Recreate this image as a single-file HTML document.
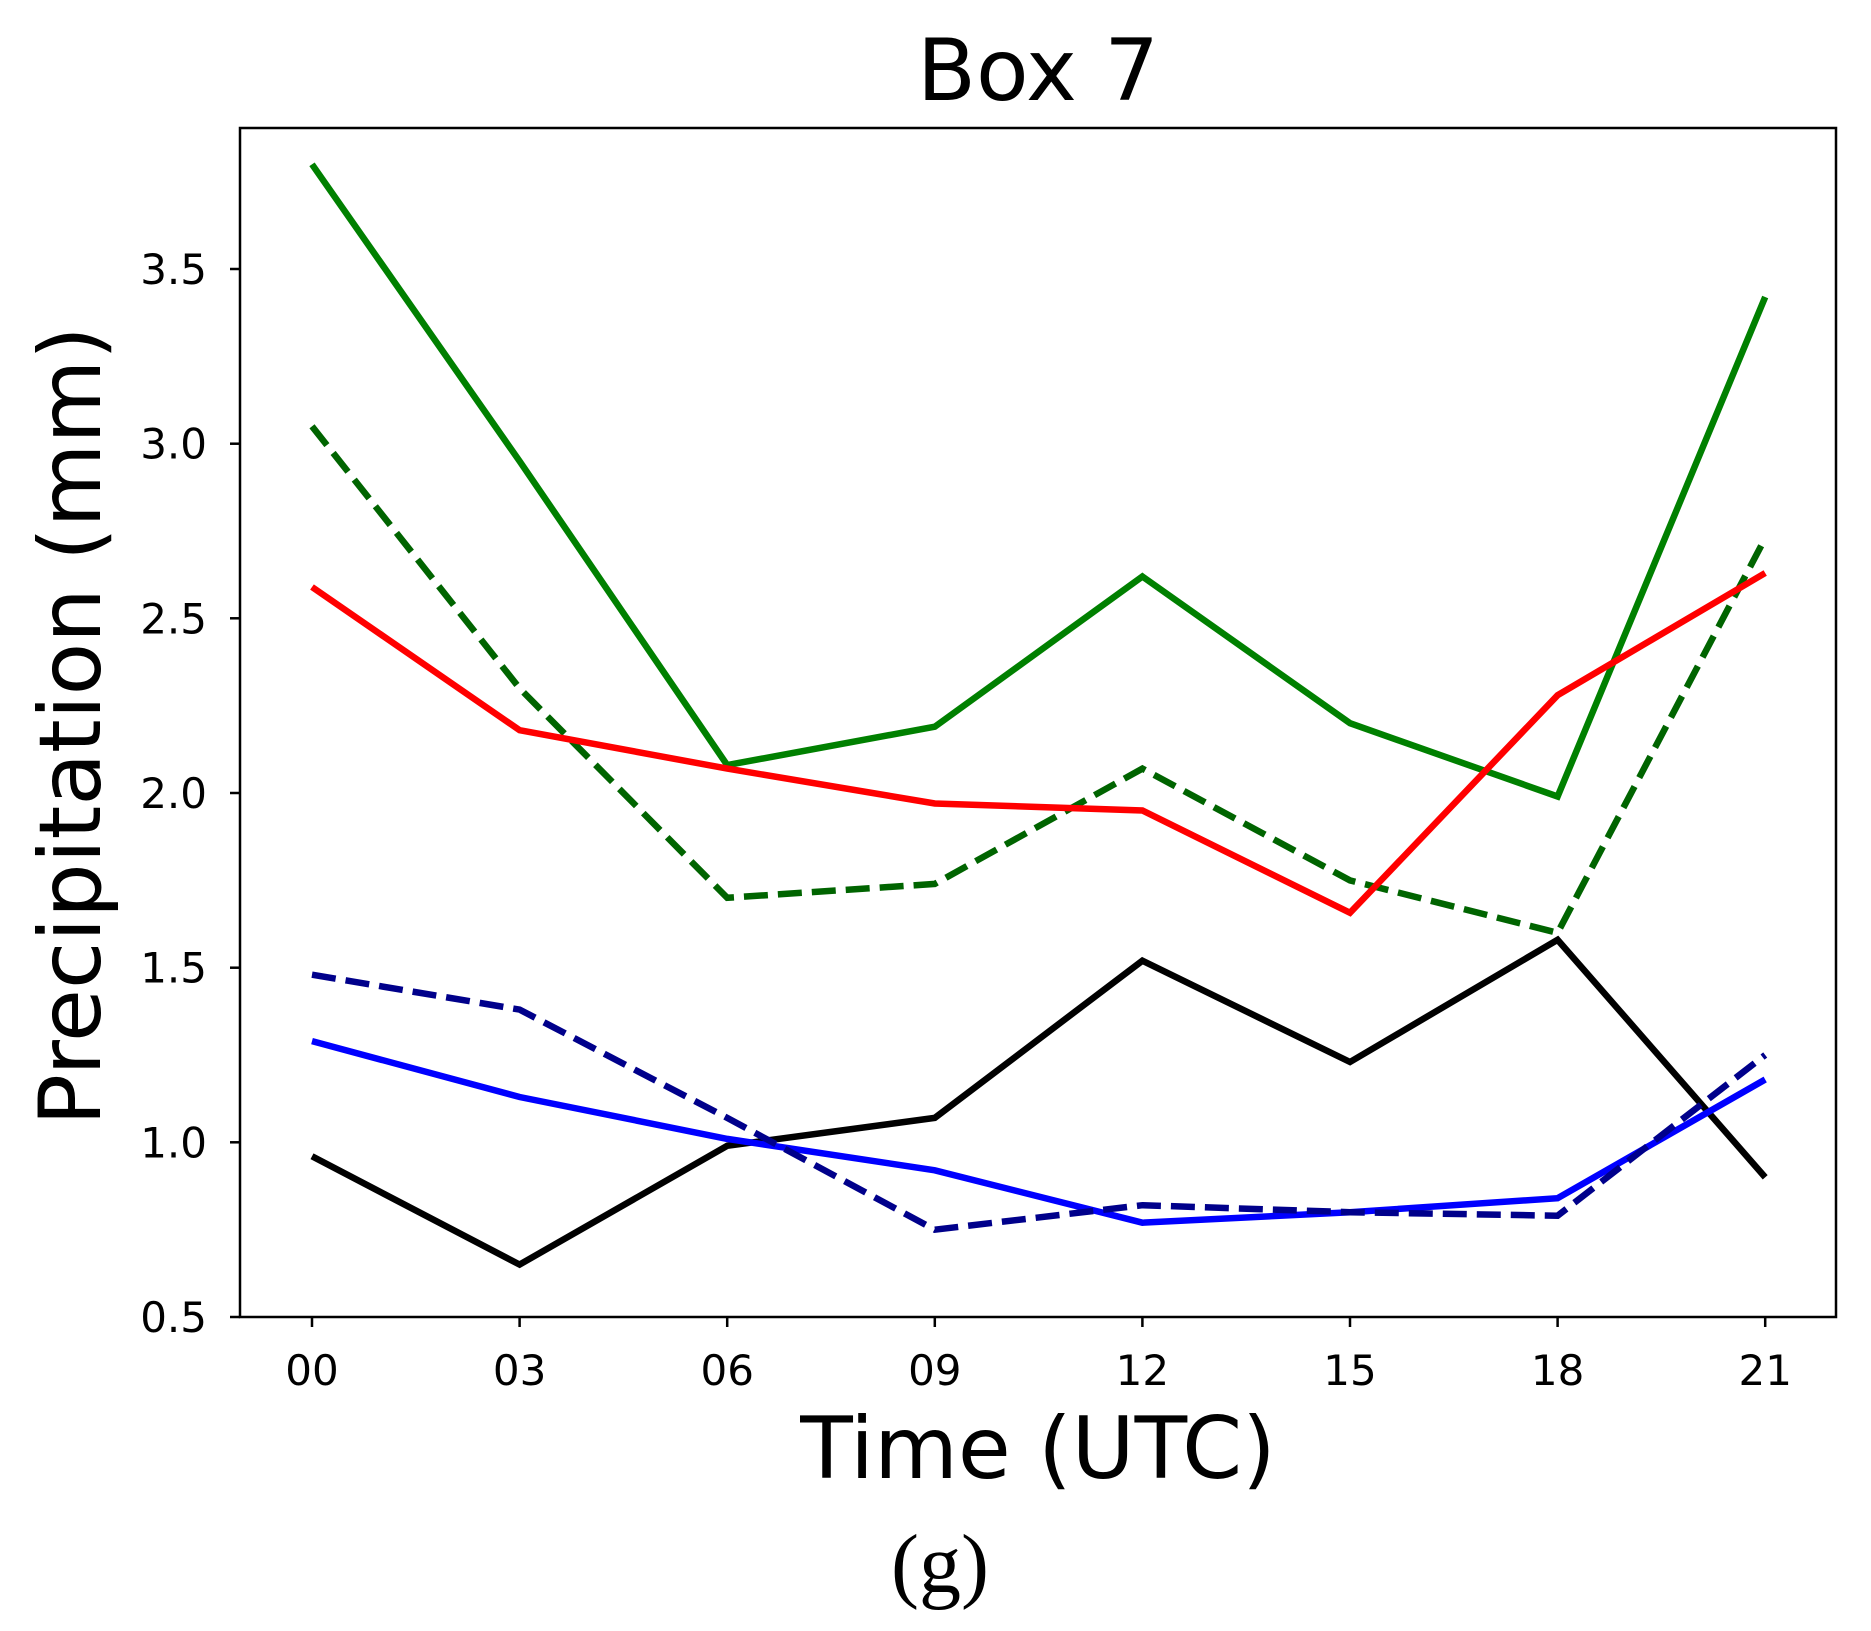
<!DOCTYPE html>
<html><head><style>html,body{margin:0;padding:0;background:#fff}</style></head>
<body>
<svg width="1871" height="1626" viewBox="0 0 1871 1626" xmlns="http://www.w3.org/2000/svg" font-family="DejaVu Sans, Liberation Sans, sans-serif">
<rect width="1871" height="1626" fill="#fff"/>
<g fill="none" stroke-width="6.5" stroke-linejoin="miter" stroke-linecap="butt">
<polyline stroke="#008000" points="312,164.3 519.6,461.2 727.2,765.1 934.8,726.7 1142.4,576.5 1350,723.2 1557.6,796.5 1765.2,297"/>
<polyline stroke="#006400" stroke-dasharray="24,10" points="312,426.3 519.6,688.3 727.2,897.8 934.8,883.9 1142.4,768.6 1350,880.4 1557.6,932.8 1765.2,538.1"/>
<polyline stroke="#ff0000" points="312,587 519.6,730.2 727.2,768.6 934.8,803.5 1142.4,810.5 1350,912.8 1557.6,695.2 1765.2,573"/>
<polyline stroke="#000000" points="312,1156.3 519.6,1264.6 727.2,1145.8 934.8,1117.9 1142.4,960.7 1350,1062 1557.6,939.8 1765.2,1177.3"/>
<polyline stroke="#0000ff" points="312,1041.1 519.6,1097 727.2,1138.9 934.8,1170.3 1142.4,1222.7 1350,1212.2 1557.6,1198.2 1765.2,1079.5"/>
<polyline stroke="#00008b" stroke-dasharray="24,10" points="312,974.7 519.6,1009.6 727.2,1117.9 934.8,1229.7 1142.4,1205.2 1350,1212.2 1557.6,1215.7 1765.2,1055"/>
</g>
<rect x="240" y="128" width="1596" height="1189" fill="none" stroke="#000" stroke-width="2.5"/>
<g stroke="#000" stroke-width="2.5">
<line x1="312" y1="1317" x2="312" y2="1327"/><line x1="519.6" y1="1317" x2="519.6" y2="1327"/>
<line x1="727.2" y1="1317" x2="727.2" y2="1327"/><line x1="934.8" y1="1317" x2="934.8" y2="1327"/>
<line x1="1142.4" y1="1317" x2="1142.4" y2="1327"/><line x1="1350" y1="1317" x2="1350" y2="1327"/>
<line x1="1557.6" y1="1317" x2="1557.6" y2="1327"/><line x1="1765.2" y1="1317" x2="1765.2" y2="1327"/>
<line x1="230" y1="1317" x2="240" y2="1317"/><line x1="230" y1="1142.3" x2="240" y2="1142.3"/>
<line x1="230" y1="967.7" x2="240" y2="967.7"/><line x1="230" y1="793" x2="240" y2="793"/>
<line x1="230" y1="618.3" x2="240" y2="618.3"/><line x1="230" y1="443.7" x2="240" y2="443.7"/>
<line x1="230" y1="269" x2="240" y2="269"/>
</g>
<g font-size="42" text-anchor="middle" fill="#000">
<text x="312" y="1385">00</text><text x="519.6" y="1385">03</text><text x="727.2" y="1385">06</text>
<text x="934.8" y="1385">09</text><text x="1142.4" y="1385">12</text><text x="1350" y="1385">15</text>
<text x="1557.6" y="1385">18</text><text x="1765.2" y="1385">21</text>
</g>
<g font-size="42" text-anchor="end" fill="#000">
<text x="207" y="1332">0.5</text><text x="207" y="1157.3">1.0</text><text x="207" y="982.7">1.5</text>
<text x="207" y="808">2.0</text><text x="207" y="633.3">2.5</text><text x="207" y="458.7">3.0</text>
<text x="207" y="284">3.5</text>
</g>
<text x="1038" y="100" font-size="86" text-anchor="middle">Box 7</text>
<text x="1038" y="1478" font-size="86" text-anchor="middle">Time (UTC)</text>
<text transform="translate(100,726) rotate(-90)" font-size="86" text-anchor="middle">Precipitation (mm)</text>
<text x="940" y="1592" font-size="84" text-anchor="middle" font-family="Liberation Serif, serif">(g)</text>
</svg>
</body></html>
